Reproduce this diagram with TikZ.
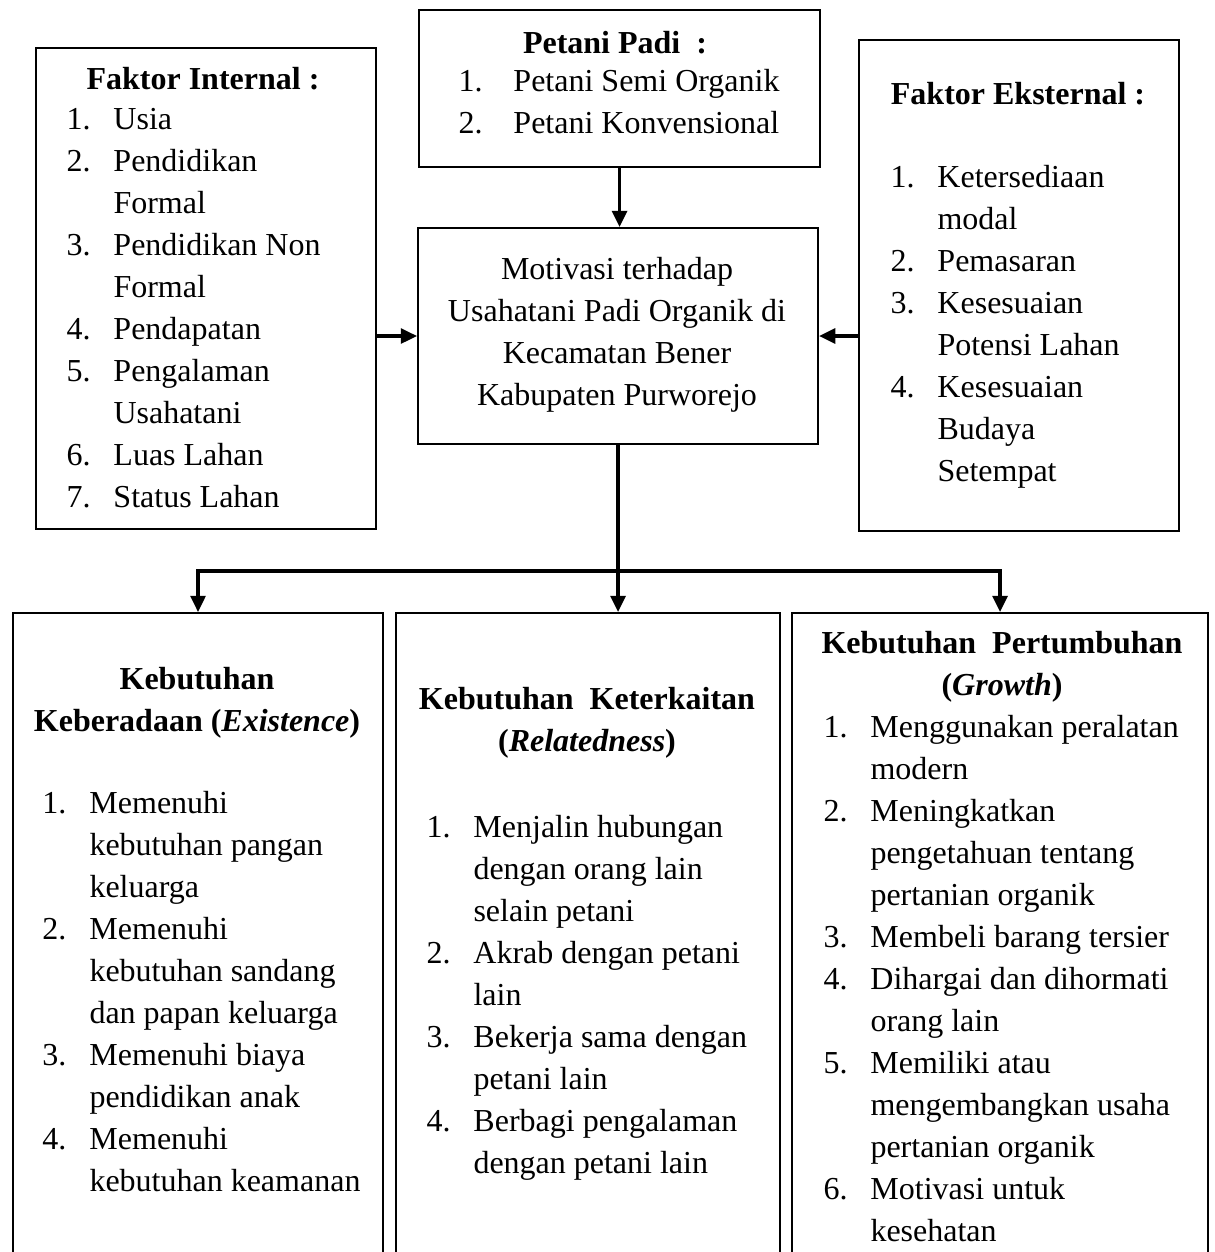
\documentclass[tikz,border=0pt]{standalone}
\usepackage{fontspec}
\setmainfont{Liberation Serif}
\usetikzlibrary{arrows.meta}

\newcommand{\headtab}[1]{\begin{tabular}{@{}c@{}}#1\end{tabular}}
\newcommand{\numtab}[2]{\begin{tabular}{@{}p{#1}@{}l@{}}#2\end{tabular}}

\begin{document}
\begin{tikzpicture}[x=0.4pt,y=-0.4pt,
  box/.style={draw,line width=0.8pt,anchor=north west,inner sep=0pt},
  txt/.style={inner sep=0pt,anchor=north,font=\fontsize{12.8}{16.8}\selectfont},
  lst/.style={txt,anchor=north west},
  arr/.style={line width=1.3pt,-{Triangle[length=6.5pt,width=6pt]}}]
\useasboundingbox (0,0) rectangle (1214,1252);
% top row
\node[box,minimum width=160.4pt,minimum height=62.8pt] (petani) at (418,9) {};
\node[txt] (petaniH) at (615,24) {\headtab{\textbf{Petani Padi\ \ :}}};
\node[lst] (petaniL) at (458,62) {\numtab{22pt}{1. & Petani Semi Organik\\ 2. & Petani Konvensional}};

\node[box,minimum width=136pt,minimum height=192.4pt] (intern) at (35,47) {};
\node[txt] (internH) at (203,60) {\headtab{\textbf{Faktor Internal :}}};
\node[lst] (internL) at (66,100) {\numtab{18.8pt}{1. & Usia\\ 2. & Pendidikan\\ & Formal\\
  3. & Pendidikan Non\\ & Formal\\ 4. & Pendapatan\\ 5. & Pengalaman\\ & Usahatani\\
  6. & Luas Lahan\\ 7. & Status Lahan}};

\node[box,minimum width=128pt,minimum height=196.4pt] (ekstern) at (858,39) {};
\node[txt] (eksternH) at (1018,75) {\headtab{\textbf{Faktor Eksternal :}}};
\node[lst] (eksternL) at (890,158) {\numtab{18.8pt}{1. & Ketersediaan\\ & modal\\ 2. & Pemasaran\\
  3. & Kesesuaian\\ & Potensi Lahan\\ 4. & Kesesuaian\\ & Budaya\\ & Setempat}};

% centre
\node[box,minimum width=160pt,minimum height=86.4pt] (motiv) at (417,227) {};
\node[txt] (motivT) at (617,250) {\headtab{Motivasi terhadap\\ Usahatani Padi Organik di\\
  Kecamatan Bener\\ Kabupaten Purworejo}};

% bottom row
\node[box,minimum width=148pt,minimum height=260pt] (exist) at (12,612) {};
\node[txt] (existH) at (197,660) {\headtab{\textbf{Kebutuhan}\\ \textbf{Keberadaan (\textit{Existence})}}};
\node[lst] (existL) at (42,784) {\numtab{18.8pt}{1. & Memenuhi\\ & kebutuhan pangan\\ & keluarga\\
  2. & Memenuhi\\ & kebutuhan sandang\\ & dan papan keluarga\\ 3. & Memenuhi biaya\\
  & pendidikan anak\\ 4. & Memenuhi\\ & kebutuhan keamanan}};

\node[box,minimum width=153.6pt,minimum height=260pt] (relat) at (395,612) {};
\node[txt] (relatH) at (587,680) {\headtab{\textbf{Kebutuhan\ \ Keterkaitan}\\ \textbf{(\textit{Relatedness})}}};
\node[lst] (relatL) at (426,808) {\numtab{18.8pt}{1. & Menjalin hubungan\\ & dengan orang lain\\
  & selain petani\\ 2. & Akrab dengan petani\\ & lain\\ 3. & Bekerja sama dengan\\
  & petani lain\\ 4. & Berbagi pengalaman\\ & dengan petani lain}};

\node[box,minimum width=166.4pt,minimum height=260pt] (growth) at (791,612) {};
\node[txt] (growthH) at (1002,624) {\headtab{\textbf{Kebutuhan\ \ Pertumbuhan}\\ \textbf{(\textit{Growth})}}};
\node[lst] (growthL) at (823,708) {\numtab{18.8pt}{1. & Menggunakan peralatan\\ & modern\\
  2. & Meningkatkan\\ & pengetahuan tentang\\ & pertanian organik\\ 3. & Membeli barang tersier\\
  4. & Dihargai dan dihormati\\ & orang lain\\ 5. & Memiliki atau\\ & mengembangkan usaha\\
  & pertanian organik\\ 6. & Motivasi untuk\\ & kesehatan}};

% connectors
\coordinate (bus) at (617,571);
\draw[arr] (petani.south) -- (petani.south |- motiv.north);
\draw[arr] (intern.east |- motiv.west) -- (motiv.west);
\draw[arr] (ekstern.west |- motiv.east) -- (motiv.east);
\draw[arr] (motiv.south) -- (motiv.south |- relat.north);
\draw[arr] (bus) -| (exist.north);
\draw[arr] (bus) -| (growth.north);
\end{tikzpicture}
\end{document}
